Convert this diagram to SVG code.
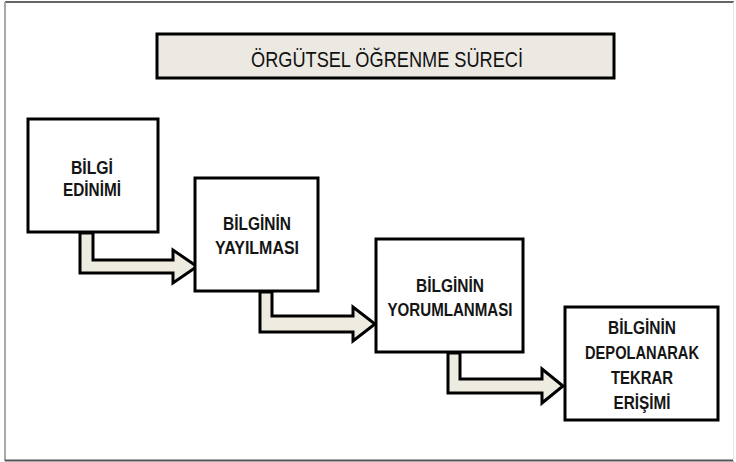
<svg xmlns="http://www.w3.org/2000/svg" width="736" height="462" viewBox="0 0 736 462">
  <style>
    .box { fill: #ffffff; stroke: #000000; stroke-width: 3; }
    .arrow { fill: #EEECE1; stroke: #000000; stroke-width: 3; stroke-linejoin: miter; }
    .lbl { font-family: "Liberation Sans", Arial, sans-serif; font-weight: bold; font-size: 18px; fill: #151515; text-anchor: middle; }
    .title { font-family: "Liberation Sans", Arial, sans-serif; font-size: 22px; fill: #111111; text-anchor: middle; }
  </style>
  <rect x="0" y="0" width="736" height="462" fill="#ffffff"/>
  <!-- outer frame -->
  <g id="frame">
    <line x1="5" y1="2" x2="734" y2="2" stroke="#333333" stroke-width="1.5"/>
    <line x1="5" y1="2" x2="5" y2="461" stroke="#aaaaaa" stroke-width="2"/>
    <line x1="5" y1="460.5" x2="734" y2="460.5" stroke="#555555" stroke-width="2"/>
    <line x1="733.5" y1="2" x2="733.5" y2="461" stroke="#e6e6e6" stroke-width="1"/>
  </g>
  <!-- title -->
  <g id="title">
    <rect x="157" y="34" width="457" height="44" fill="#ECE9E2" stroke="#000000" stroke-width="3"/>
    <text class="title" x="387" y="67" textLength="272" lengthAdjust="spacingAndGlyphs">ÖRGÜTSEL ÖĞRENME SÜRECİ</text>
  </g>
  <!-- connectors -->
  <g id="connectors">
    <polygon class="arrow" points="80,233 93,233 93,260 173,260 173,250 197,266.5 173,283 173,273 80,273"/>
    <polygon class="arrow" points="260,292 272,292 272,316 353,316 353,307 375,324 353,341 353,332 260,332"/>
    <polygon class="arrow" points="448,353 460,353 460,379 542,379 542,369 563,386 542,403 542,393 448,393"/>
  </g>
  <!-- steps -->
  <g id="node-bilgi-edinimi">
    <rect class="box" x="28" y="119" width="130" height="113"/>
    <text class="lbl" x="92" y="174" textLength="42" lengthAdjust="spacingAndGlyphs">BİLGİ</text>
    <text class="lbl" x="92" y="196" textLength="58" lengthAdjust="spacingAndGlyphs">EDİNİMİ</text>
  </g>
  <g id="node-yayilma">
    <rect class="box" x="195" y="178" width="123" height="113"/>
    <text class="lbl" x="257" y="230" textLength="68" lengthAdjust="spacingAndGlyphs">BİLGİNİN</text>
    <text class="lbl" x="257" y="254" textLength="84" lengthAdjust="spacingAndGlyphs">YAYILMASI</text>
  </g>
  <g id="node-yorumlanma">
    <rect class="box" x="376" y="239" width="147" height="113"/>
    <text class="lbl" x="450" y="292" textLength="68" lengthAdjust="spacingAndGlyphs">BİLGİNİN</text>
    <text class="lbl" x="450" y="316" textLength="125" lengthAdjust="spacingAndGlyphs">YORUMLANMASI</text>
  </g>
  <g id="node-depolama">
    <rect class="box" x="565" y="307" width="153" height="113"/>
    <text class="lbl" x="642" y="334" textLength="68" lengthAdjust="spacingAndGlyphs">BİLGİNİN</text>
    <text class="lbl" x="642" y="359" textLength="114" lengthAdjust="spacingAndGlyphs">DEPOLANARAK</text>
    <text class="lbl" x="642" y="384" textLength="62" lengthAdjust="spacingAndGlyphs">TEKRAR</text>
    <text class="lbl" x="642" y="409" textLength="57" lengthAdjust="spacingAndGlyphs">ERİŞİMİ</text>
  </g>
</svg>
